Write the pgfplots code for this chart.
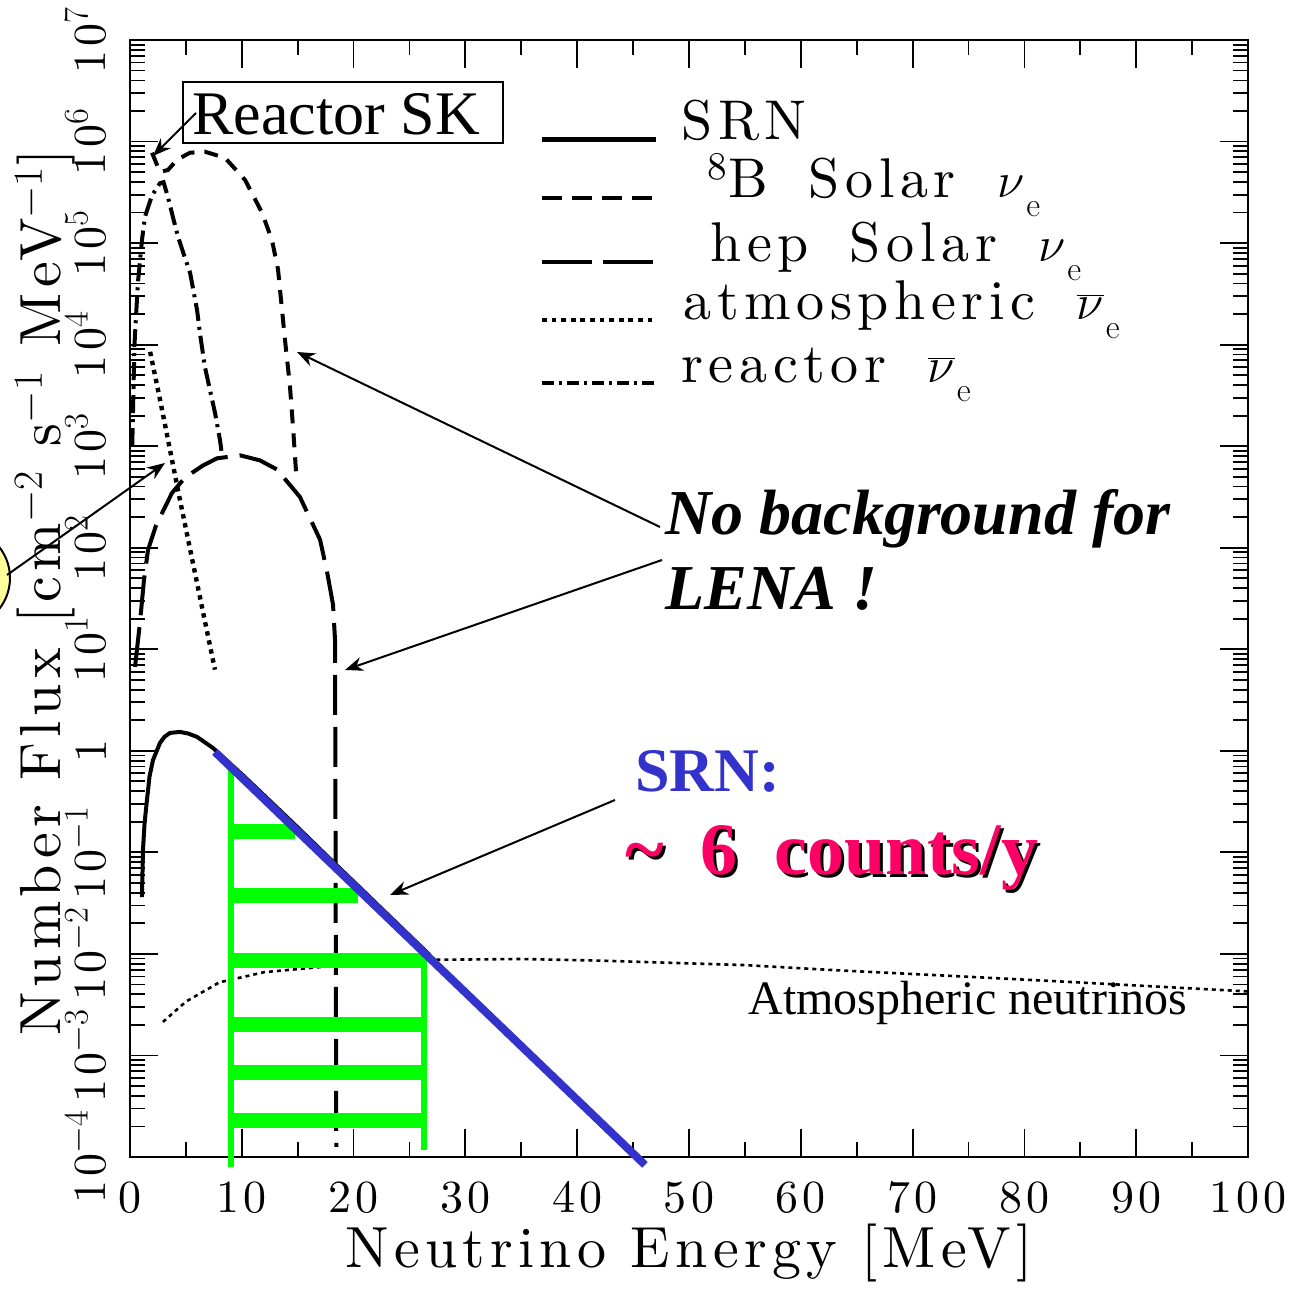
\documentclass[border=0pt]{standalone}
\usepackage{fontspec}
\usepackage{pgfplots}
\pgfplotsset{compat=1.18}
\usetikzlibrary{arrows.meta}
\newfontfamily\hershey{lmroman10-regular.otf}[LetterSpace=9]
\newfontfamily\hersheyleg{lmroman10-regular.otf}[LetterSpace=10,WordSpace=1.7]
\newfontfamily\tms{Liberation Serif}
\definecolor{srnblue}{HTML}{3333CC}
\definecolor{cntred}{HTML}{FF0066}
\definecolor{grn}{HTML}{00FF00}
\definecolor{yel}{HTML}{FFFF99}
\newcommand\sube{\kern1pt\raisebox{-9.5pt}{\normalfont\fontsize{17}{17}\selectfont e}}
\begin{document}
\begin{tikzpicture}
\begin{axis}[
  scale only axis, width=559pt, height=558.5pt,
  at={(0,0)}, anchor=south west,
  xmin=0, xmax=100, ymode=log, ymin=1e-4, ymax=1e7,
  clip=false,
  axis line style={line width=1.2pt},
  every tick/.style={black, line width=0.9pt},
  major tick length=14pt, minor tick length=7.5pt,
  xtick={0,10,20,30,40,50,60,70,80,90,100},
  xticklabels={0,10,20,30,40,50,60,70,80,90,100},
  minor xtick={5,15,25,35,45,55,65,75,85,95},
  ytick={1e-4,1e-3,1e-2,1e-1,1,1e1,1e2,1e3,1e4,1e5,1e6,1e7},
  yticklabels={10$^{-4}$,10$^{-3}$,10$^{-2}$,10$^{-1}$,1,10$^{1}$,10$^{2}$,10$^{3}$,10$^{4}$,10$^{5}$,10$^{6}$,10$^{7}$},
  minor ytick={2e-4,3e-4,4e-4,5e-4,6e-4,7e-4,8e-4,9e-4,
    2e-3,3e-3,4e-3,5e-3,6e-3,7e-3,8e-3,9e-3,
    2e-2,3e-2,4e-2,5e-2,6e-2,7e-2,8e-2,9e-2,
    0.2,0.3,0.4,0.5,0.6,0.7,0.8,0.9,
    2,3,4,5,6,7,8,9,
    20,30,40,50,60,70,80,90,
    200,300,400,500,600,700,800,900,
    2000,3000,4000,5000,6000,7000,8000,9000,
    2e4,3e4,4e4,5e4,6e4,7e4,8e4,9e4,
    2e5,3e5,4e5,5e5,6e5,7e5,8e5,9e5,
    2e6,3e6,4e6,5e6,6e6,7e6,8e6,9e6},
  xticklabel style={font={\hershey\fontsize{23}{23}\selectfont}, inner ysep=12pt},
  yticklabel style={font={\hershey\fontsize{23}{23}\selectfont}, rotate=90, anchor=south, inner ysep=11.5pt},
  xlabel={Neutrino Energy [MeV]},
  ylabel={Number Flux [cm$^{-2}$ s$^{-1}$ MeV$^{-1}$]},
  every axis x label/.style={at={(axis description cs:0.5,-0.0985)}, anchor=base, font={\hershey\fontsize{29}{29}\selectfont}},
  every axis y label/.style={at={(axis description cs:-0.0626,0.505)}, rotate=90, anchor=base, font={\hershey\fontsize{29}{29}\selectfont}},
]
% SRN (black)
\addplot[black, line width=2pt] coordinates {
 (1.07,0.0363) (1.16,0.105) (1.3,0.191) (1.52,0.331) (1.75,0.562) (2.06,0.813)
 (2.68,1.194) (3.1,1.38) (3.58,1.50) (4.47,1.535) (5.2,1.48) (6.0,1.371) (7.42,1.067)
 (10,0.589) (14.58,0.195) (17.9,0.0861) (20.84,0.042) (25.3,0.0141) (26.8,0.00977)};
% 8B solar
\addplot[black, line width=2pt, dash pattern=on 7pt off 5pt] coordinates {
 (1.97,7.76e5) (2.68,5.01e5) (3.4,5.25e5) (4.2,6.61e5) (5.37,7.76e5) (6.7,7.94e5)
 (8.5,6.92e5) (10.3,4.17e5) (11.8,2.0e5) (12.7,1.07e5) (13.24,5.5e4) (13.6,2.19e4)
 (13.86,1.12e4) (14.3,3.98e3) (14.6,1.45e3) (14.85,562)};
% hep solar
\addplot[black, line width=2pt, dash pattern=on 20pt off 6pt] coordinates {
 (0.45,6.7) (0.89,18.2) (1.25,48) (1.61,95) (2.33,166) (3.13,251) (3.76,347)
 (4.92,490) (6.53,646) (7.78,759) (9.84,813) (11.63,724) (13.15,589) (15.2,316)
 (17.0,120) (17.6,60) (18.16,27.5) (18.34,12.3) (18.45,1.26e-4)};
% atmospheric (low energy part)
\addplot[black, line width=2.2pt, dash pattern=on 2.2pt off 2.4pt] coordinates {
 (1.8,8.5e3) (2.7,2.82e3) (4.47,295) (6.3,30.9) (7.6,6.3)};
% atmospheric (high energy part)
\addplot[black, line width=1.3pt, dash pattern=on 2pt off 2pt] coordinates {
 (2.95,2.14e-3) (5,3.39e-3) (8,5.25e-3) (12,6.61e-3) (18,7.59e-3) (25,8.71e-3)
 (35,8.91e-3) (42,8.59e-3) (55,7.76e-3) (63,6.92e-3) (74,6.03e-3) (83,5.37e-3)
 (95,4.57e-3) (100,4.27e-3)};
% reactor
\addplot[black, line width=2pt, dash pattern=on 9pt off 3pt on 1.5pt off 3pt] coordinates {
 (0.2,1000) (0.4,1e4) (0.7,3.98e4) (1.07,1.07e5) (1.34,1.82e5) (1.97,2.95e5)
 (2.68,3.89e5) (3.0,3.98e5) (3.4,2.82e5) (3.85,1.78e5) (4.3,1.15e5) (4.9,7.24e4)
 (5.37,5.13e4) (6.0,2.19e4) (6.26,1.29e4) (6.7,6.03e3) (7.16,3.55e3) (7.6,2.14e3)
 (8.05,1.15e3) (8.23,813)};
% green detection window
\addplot[grn, line width=3pt] coordinates {(9.03,0.676) (9.03,7.9e-5)};
\addplot[grn, line width=3pt] coordinates {(26.3,0.011) (26.3,1.17e-4)};
\addplot[grn, line width=7.5pt] coordinates {(9.03,0.159) (14.76,0.159)};
\addplot[grn, line width=7.5pt] coordinates {(9.03,0.0372) (20.39,0.0372)};
\addplot[grn, line width=7.5pt] coordinates {(9.03,8.71e-3) (26.45,8.71e-3)};
\addplot[grn, line width=7.5pt] coordinates {(9.03,2.04e-3) (26.45,2.04e-3)};
\addplot[grn, line width=7.5pt] coordinates {(9.03,6.87e-4) (26.45,6.87e-4)};
\addplot[grn, line width=7.5pt] coordinates {(9.03,2.31e-4) (26.45,2.31e-4)};
% blue SRN fit
\addplot[srnblue, line width=4pt] coordinates {(7.6,0.975) (46.06,8.36e-5)};
\end{axis}
\begin{scope}[x=0.5pt,y=-0.5pt,shift={(-130,-1157)}]
 % legend
 \draw[line width=2.5pt] (542,140) -- (656,140);
 \draw[line width=2pt, dash pattern=on 10pt off 5pt] (542,198) -- (656,198);
 \draw[line width=2.2pt, dash pattern=on 25pt off 5.5pt] (542,262) -- (656,262);
 \draw[line width=1.6pt, dash pattern=on 2.4pt off 2.4pt] (542,320) -- (656,320);
 \draw[line width=2pt, dash pattern=on 6pt off 2.5pt on 1.5pt off 2.5pt] (542,383) -- (656,383);
 \begin{scope}[every node/.style={anchor=base west, inner sep=0pt, font={\hersheyleg\fontsize{28}{30}\selectfont}}]
  \node at (681,140) {SRN};
  \node at (707,198) {\textsuperscript{8}B Solar $\nu$\sube};
  \node at (710,262) {hep Solar $\nu$\sube};
  \node at (683,320) {atmospheric $\overline{\nu}$\sube};
  \node at (681,383) {reactor $\overline{\nu}$\sube};
 \end{scope}
 % Reactor SK box
 \draw[line width=1.2pt, fill=white] (183,82) rectangle (503,143);
 \node[anchor=base west, inner sep=0pt, font={\tms\fontsize{31}{31}\selectfont}] at (192,135) {Reactor SK};
 \draw[line width=1pt, -{Stealth[length=9pt,width=7pt]}] (196,113) -- (153,156);
 % No background
 \node[anchor=base west, inner sep=0pt, font={\tms\bfseries\itshape\fontsize{32}{32}\selectfont}] at (665,535) {No background for};
 \node[anchor=base west, inner sep=0pt, font={\tms\bfseries\itshape\fontsize{32}{32}\selectfont}] at (665,610) {LENA !};
 \draw[line width=1pt, -{Stealth[length=9pt,width=7pt]}] (660,527) -- (297,352);
 \draw[line width=1pt, -{Stealth[length=9pt,width=7pt]}] (662,560) -- (345,670);
 % yellow circle and arrow
 \draw[line width=1pt, fill=yel] (-40,578) circle[radius=50];
 \draw[line width=1pt, -{Stealth[length=9pt,width=7pt]}] (7,575) -- (165,463);
 % SRN counts
 \node[anchor=base west, inner sep=0pt, text=srnblue, font={\tms\bfseries\fontsize{31}{31}\selectfont}] at (635,792) {SRN:};
 \node[anchor=base west, inner sep=0pt, text=black, font={\tms\bfseries\fontsize{37}{37}\selectfont}] at (628,878) {\textasciitilde\ \ 6\ \ counts/y};
 \node[anchor=base west, inner sep=0pt, text=cntred, font={\tms\bfseries\fontsize{37}{37}\selectfont}] at (625,875) {\textasciitilde\ \ 6\ \ counts/y};
 \draw[line width=1pt, -{Stealth[length=9pt,width=7pt]}] (615,800) -- (390,895);
 % atmospheric label
 \node[anchor=base west, inner sep=0pt, font={\tms\fontsize{24}{24}\selectfont}] at (748,1015) {Atmospheric neutrinos};
 % bounding box
 \pgfresetboundingbox
 \path[use as bounding box] (0,0) rectangle (1297,1290);
\end{scope}
\end{tikzpicture}
\end{document}
